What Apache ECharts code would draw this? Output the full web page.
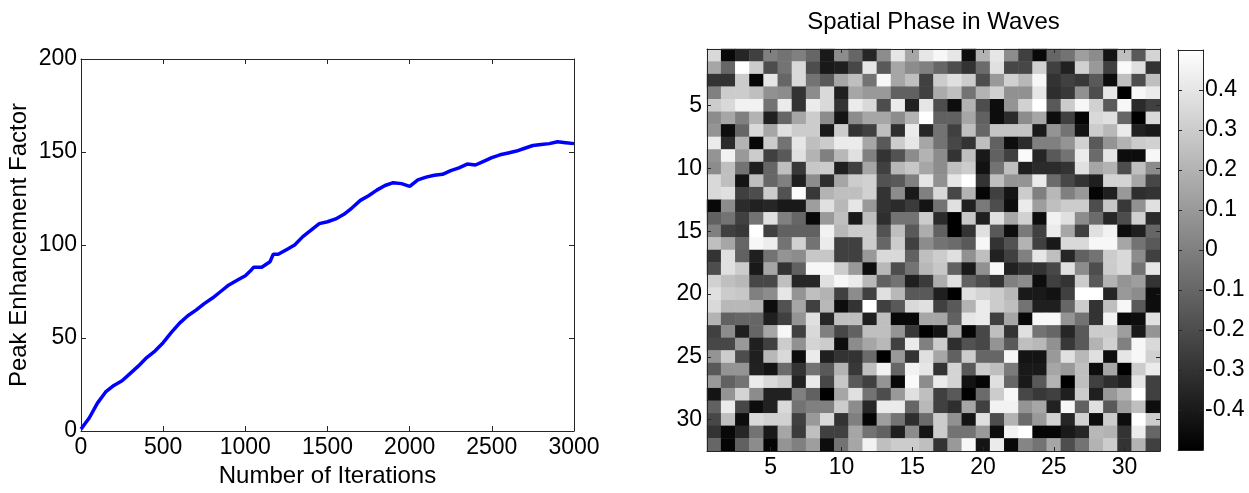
<!DOCTYPE html>
<html>
<head>
<meta charset="utf-8">
<script src="https://cdn.jsdelivr.net/npm/echarts@6/dist/echarts.min.js"></script>
<style>
html,body{margin:0;padding:0;background:#fff;}
#c{width:1249px;height:493px;}
</style>
</head>
<body>
<div id="c"></div>
<script>
// ---- Left chart: Peak Enhancement Factor vs iterations
const iterations = [0,25,50,100,150,200,250,300,350,400,450,500,550,600,650,700,750,800,850,900,950,1000,1030,1050,1100,1150,1170,1200,1250,1300,1350,1400,1450,1500,1550,1600,1650,1700,1750,1800,1850,1900,1950,2000,2050,2100,2150,2200,2250,2300,2350,2400,2450,2500,2550,2600,2650,2700,2750,2800,2850,2900,2950,3000];
const peakFactor = [1,4,7,15,21,24.5,27,31,35,39.5,43,47.5,53,58,62,65,68.5,71.5,75,78.5,81,83.5,86,88,88,91,95,95,97.5,100,104.5,108,111.5,112.5,114,116.5,120,124,126.5,129.5,132,133.5,133,131.5,135,136.5,137.5,138,140,141.5,143.5,143,145,147,148.5,149.5,150.5,152,153.5,154,154.5,155.5,155,154.5];
const xTicksLeft = {min:0, max:3000, step:500};
const yTicksLeft = {min:0, max:200, step:50};

// ---- Right chart: Spatial phase in waves, 32 x 32 (row 1 = top)
const cols = Array.from({length:32}, (_, i) => String(i + 1));
const rows = Array.from({length:32}, (_, i) => String(i + 1));
const phase = [
[0.35,-0.47,-0.35,-0.25,0.0,-0.05,0.0,-0.1,-0.4,0.05,-0.1,-0.35,0.05,0.4,0.15,0.4,0.47,0.4,-0.45,0.2,0.4,0.05,-0.25,-0.47,-0.1,-0.05,0.12,0.05,-0.42,0.25,-0.15,0.33],
[0.15,-0.1,0.5,0.3,-0.2,-0.05,0.35,-0.2,-0.4,-0.38,-0.22,0.4,-0.15,0.15,0.05,0.0,-0.1,-0.2,-0.3,-0.08,0.38,-0.22,-0.22,0.32,-0.25,-0.37,0.32,0.1,-0.25,0.48,0.38,-0.3],
[-0.3,-0.3,0.3,-0.48,0.4,-0.1,0.35,-0.05,-0.15,0.15,0.25,-0.05,0.47,0.15,0.25,-0.25,0.3,0.38,0.3,-0.2,0.1,0.32,0.22,0.47,-0.3,-0.25,-0.28,-0.15,-0.45,0.25,-0.2,0.25],
[0.0,0.3,0.3,0.25,0.07,0.05,-0.3,0.05,0.35,-0.38,0.15,0.1,0.1,-0.12,-0.12,-0.25,0.17,0.25,-0.05,0.2,0.32,0.07,0.07,0.4,-0.32,-0.28,0.07,-0.2,0.4,-0.5,0.47,0.42],
[0.3,0.35,0.45,0.45,-0.05,0.42,-0.3,0.42,0.35,-0.3,0.42,0.35,-0.2,0.42,-0.37,0.4,-0.2,-0.45,0.2,-0.2,-0.45,0.08,0.32,0.5,-0.15,0.3,0.47,0.32,-0.15,0.47,-0.33,-0.25],
[0.05,0.15,0.0,0.2,-0.38,-0.1,0.15,0.3,0.05,-0.42,0.05,0.15,0.15,0.05,0.2,0.5,-0.12,-0.12,0.15,-0.12,-0.45,-0.33,0.05,0.15,-0.45,-0.25,-0.48,0.35,0.38,-0.1,-0.5,0.35],
[0.08,-0.45,-0.1,0.35,0.15,0.38,0.3,0.3,-0.4,0.3,-0.3,-0.25,0.25,-0.32,0.42,-0.35,-0.05,-0.25,0.25,-0.1,0.27,0.27,0.27,-0.4,0.08,-0.05,-0.42,0.3,0.22,0.42,-0.37,-0.4],
[0.42,-0.33,0.2,-0.47,0.3,-0.05,0.4,0.25,0.3,0.42,0.42,0.15,-0.15,0.3,0.4,0.15,-0.05,-0.22,-0.3,0.25,-0.12,-0.45,-0.33,0.0,0.0,0.08,0.32,-0.15,0.08,0.2,0.3,0.32],
[0.08,0.45,0.1,0.3,-0.25,-0.15,0.38,0.2,0.0,0.22,0.38,0.0,-0.3,-0.18,0.05,0.2,0.05,-0.3,0.25,-0.4,-0.12,-0.25,0.48,-0.35,-0.15,-0.05,0.42,-0.08,0.4,-0.45,-0.45,0.47],
[0.05,0.25,-0.05,-0.38,-0.1,0.25,-0.28,0.28,0.3,-0.38,-0.25,0.15,-0.25,0.22,0.28,0.15,0.05,0.25,0.3,-0.43,-0.05,0.25,-0.38,-0.33,-0.33,-0.3,0.38,0.15,0.2,-0.2,0.25,0.05],
[0.35,0.25,-0.42,0.25,-0.1,0.0,-0.38,0.05,-0.32,0.15,0.3,0.32,-0.18,-0.15,0.0,0.4,0.07,0.4,0.5,-0.3,0.25,0.08,0.08,0.42,-0.08,-0.22,-0.3,-0.38,0.33,0.33,0.15,-0.22],
[0.35,0.38,-0.25,-0.2,0.3,-0.18,0.48,-0.28,0.2,0.25,0.25,0.32,-0.3,0.05,-0.4,0.0,0.35,-0.22,0.2,-0.48,-0.25,-0.42,0.3,0.0,0.22,0.0,0.1,-0.48,-0.38,0.1,-0.32,-0.3],
[-0.47,0.05,-0.33,-0.37,-0.35,-0.4,-0.4,0.12,0.38,0.22,0.4,0.1,-0.3,-0.33,-0.27,-0.42,-0.05,0.38,-0.37,-0.02,-0.2,-0.45,0.42,0.12,0.25,0.3,0.3,-0.2,0.28,-0.28,0.07,0.38],
[-0.12,-0.05,-0.25,-0.05,0.38,0.0,-0.1,-0.47,0.1,0.25,-0.4,0.25,-0.32,-0.05,-0.05,0.3,-0.33,-0.5,0.28,-0.38,0.38,0.15,0.32,-0.45,0.45,0.38,0.05,-0.08,-0.35,-0.2,0.32,-0.33],
[0.0,-0.25,-0.28,0.5,-0.25,-0.12,-0.12,-0.12,0.45,0.22,0.3,0.3,-0.18,0.25,-0.15,0.18,-0.12,-0.5,-0.3,0.38,-0.15,-0.45,-0.02,-0.25,0.42,0.15,-0.25,0.38,0.45,-0.45,-0.38,-0.1],
[0.25,0.15,-0.1,0.47,0.43,-0.05,0.32,-0.05,0.42,-0.25,-0.25,0.3,-0.1,0.3,-0.25,0.05,-0.05,-0.08,-0.15,0.47,-0.3,-0.18,0.2,-0.25,-0.4,0.35,0.35,0.47,0.47,0.15,-0.05,-0.15],
[-0.3,0.38,-0.12,-0.38,-0.05,0.08,0.05,0.28,0.28,-0.25,-0.25,0.1,0.35,0.35,-0.12,0.25,0.3,0.38,0.07,0.25,-0.37,-0.25,0.0,0.4,0.25,-0.35,-0.12,-0.05,0.3,0.35,0.05,-0.25],
[-0.2,0.38,0.3,-0.4,0.15,-0.3,-0.12,0.47,0.47,0.3,0.1,-0.45,0.22,-0.2,-0.05,0.22,0.28,-0.12,-0.4,0.07,0.47,-0.37,-0.3,-0.3,-0.22,0.38,0.05,-0.2,0.3,0.35,-0.05,0.4],
[0.32,0.25,0.22,-0.22,-0.22,0.25,-0.35,-0.35,0.38,0.47,0.42,0.22,-0.12,-0.05,-0.38,-0.27,0.18,0.38,-0.12,-0.2,-0.3,0.0,0.05,-0.45,-0.25,-0.3,0.3,-0.15,0.2,0.08,0.12,-0.3],
[0.38,0.3,0.28,0.0,0.05,0.4,0.08,0.25,0.2,-0.25,0.05,-0.25,0.38,0.22,-0.15,-0.15,-0.38,-0.5,0.38,0.33,0.3,0.22,-0.4,-0.4,-0.43,-0.25,0.5,0.5,-0.35,0.1,0.05,-0.45],
[0.35,0.22,0.22,0.2,-0.45,-0.18,0.15,-0.25,0.22,-0.45,-0.3,0.5,-0.25,-0.15,0.35,0.38,-0.25,-0.15,0.2,0.42,0.3,0.25,-0.05,-0.38,-0.38,-0.1,0.3,-0.3,0.25,0.47,-0.15,-0.45],
[0.2,-0.12,-0.1,-0.1,-0.38,-0.25,0.08,0.38,-0.35,0.25,0.25,-0.38,0.25,-0.47,-0.47,0.15,0.15,-0.12,0.4,0.42,-0.25,0.15,-0.47,0.47,0.47,0.08,-0.05,-0.3,0.45,-0.47,-0.45,0.38],
[-0.25,0.05,-0.38,-0.1,0.15,0.47,-0.25,0.35,0.0,-0.22,-0.12,0.25,0.25,0.08,-0.28,-0.5,-0.42,0.18,-0.48,-0.22,0.25,-0.3,0.38,-0.05,-0.1,-0.35,-0.15,0.3,0.3,0.12,-0.4,0.08],
[-0.22,-0.22,0.1,-0.38,-0.25,0.3,0.07,0.33,0.3,-0.45,0.05,0.15,0.22,-0.25,0.42,0.0,0.3,-0.32,-0.18,-0.22,0.08,-0.15,0.25,0.22,0.07,-0.28,-0.15,0.2,0.32,0.0,0.47,0.35],
[0.08,0.3,-0.2,-0.38,0.22,0.35,-0.45,0.42,-0.38,-0.3,-0.3,-0.08,-0.5,0.1,-0.3,0.38,0.15,-0.12,0.3,-0.1,-0.1,0.47,-0.42,-0.42,0.1,0.38,0.22,0.38,-0.45,0.4,0.47,0.32],
[-0.15,0.08,0.08,-0.37,-0.42,-0.08,-0.3,-0.05,-0.15,0.2,-0.28,0.25,0.45,-0.1,0.45,0.4,-0.3,0.33,-0.15,0.3,0.25,-0.02,-0.4,-0.4,0.15,0.1,0.25,-0.45,0.15,-0.5,0.3,0.42],
[0.1,-0.12,-0.05,0.42,0.35,0.3,-0.37,0.42,-0.22,0.28,-0.15,-0.25,0.08,-0.47,0.48,0.05,0.42,0.33,-0.43,-0.48,0.38,-0.1,-0.4,-0.15,0.2,-0.5,0.25,-0.25,-0.32,-0.37,0.4,-0.25],
[-0.42,0.08,0.33,0.05,-0.37,-0.37,0.0,-0.12,-0.5,0.15,0.38,-0.05,-0.2,0.1,0.38,0.25,-0.25,-0.15,-0.5,-0.08,0.3,0.47,-0.22,-0.28,-0.25,-0.38,0.3,-0.38,0.1,0.2,0.5,-0.25],
[-0.12,0.42,-0.22,-0.45,-0.37,0.35,-0.05,0.0,0.0,0.3,0.05,-0.35,0.42,0.42,-0.1,0.22,-0.25,-0.32,0.15,-0.25,0.45,0.45,0.08,0.15,-0.37,0.47,-0.12,0.38,-0.15,0.12,0.25,-0.45],
[-0.22,0.25,-0.45,0.35,0.32,0.32,-0.25,0.1,0.35,-0.3,0.0,-0.48,0.12,-0.05,-0.32,-0.08,0.3,0.07,-0.42,0.38,-0.2,0.2,-0.08,0.1,0.32,-0.35,0.32,-0.45,0.3,-0.45,0.5,0.3],
[-0.3,-0.47,-0.35,-0.05,-0.4,0.15,-0.27,0.25,-0.25,-0.25,0.15,-0.05,-0.12,-0.38,0.05,-0.42,0.3,-0.05,-0.05,0.1,-0.45,0.45,0.5,-0.48,-0.48,-0.4,-0.35,0.22,0.2,-0.3,0.42,-0.1],
[-0.1,-0.48,-0.12,0.05,-0.48,0.08,0.0,0.12,-0.45,-0.05,0.15,0.45,0.25,0.3,0.3,0.25,-0.3,0.1,0.47,-0.42,0.42,-0.47,0.02,-0.05,0.15,-0.2,-0.05,0.2,0.3,-0.3,0.2,-0.25]
];
const phaseRange = {min:-0.5, max:0.5, step:0.1};
const labelEvery = 5;

const FONT = '"Liberation Sans", Arial, Helvetica, sans-serif';
const AX = '#262626';
const TICK_FS = 23;
const NAME_FS = 24;

const lineData = iterations.map((x, i) => [x, peakFactor[i]]);
const heatData = [];
phase.forEach((row, r) => row.forEach((v, c) => heatData.push([c, r, v])));

const catShow = (i) => (i + 1) % labelEvery === 0;
const plain = (v) => String(v);

function valueAxis(gridIndex, extra) {
  return Object.assign({
    type: 'value', gridIndex,
    axisLine: {show: true, onZero: false, lineStyle: {color: AX, width: 1}},
    axisTick: {show: true, inside: true, length: 5, lineStyle: {color: AX}},
    splitLine: {show: false},
    axisLabel: {color: '#000', fontFamily: FONT, fontSize: TICK_FS, formatter: plain},
    z: 5
  }, extra);
}
function catAxis(gridIndex, data, extra) {
  return Object.assign({
    type: 'category', gridIndex, data,
    axisLine: {show: true, onZero: false, lineStyle: {color: AX, width: 1}},
    axisTick: {show: true, inside: true, length: 4, alignWithLabel: true, interval: catShow, lineStyle: {color: AX}},
    splitLine: {show: false},
    axisLabel: {color: '#000', fontFamily: FONT, fontSize: TICK_FS, interval: catShow},
    z: 5
  }, extra);
}

const chart = echarts.init(document.getElementById('c'), null, {renderer: 'canvas'});
chart.setOption({
  animation: false,
  backgroundColor: '#fff',
  grid: [
    {left: 81, top: 59, width: 493, height: 379, containLabel: false},
    {left: 707, top: 49, width: 453, height: 402, containLabel: false},
    {left: 1178, top: 50, width: 25, height: 400, containLabel: false, show: true, borderWidth: 0,
     backgroundColor: {type: 'linear', x: 0, y: 0, x2: 0, y2: 1, colorStops: [{offset: 0, color: '#ffffff'}, {offset: 1, color: '#000000'}]}}
  ],
  xAxis: [
    valueAxis(0, {position: 'bottom', min: xTicksLeft.min, max: xTicksLeft.max, interval: xTicksLeft.step,
      axisLabel: {color: '#000', fontFamily: FONT, fontSize: TICK_FS, margin: 5, formatter: plain},
      name: 'Number of Iterations', nameLocation: 'middle', nameGap: 33,
      nameTextStyle: {color: '#000', fontFamily: FONT, fontSize: NAME_FS}}),
    valueAxis(0, {position: 'top', min: xTicksLeft.min, max: xTicksLeft.max, interval: xTicksLeft.step, axisLabel: {show: false}}),
    catAxis(1, cols, {position: 'bottom', axisLabel: {color: '#000', fontFamily: FONT, fontSize: TICK_FS, interval: catShow, margin: 5}}),
    catAxis(1, cols, {position: 'top', axisLabel: {show: false},
      name: 'Spatial Phase in Waves', nameLocation: 'middle', nameGap: 15,
      nameTextStyle: {color: '#000', fontFamily: FONT, fontSize: NAME_FS}}),
    {type: 'category', gridIndex: 2, data: [''], position: 'bottom', axisLine: {show: true, onZero: false, lineStyle: {color: AX}}, axisTick: {show: false}, axisLabel: {show: false}, z: 5},
    {type: 'category', gridIndex: 2, data: [''], position: 'top', axisLine: {show: true, onZero: false, lineStyle: {color: AX}}, axisTick: {show: false}, axisLabel: {show: false}, z: 5}
  ],
  yAxis: [
    valueAxis(0, {position: 'left', min: yTicksLeft.min, max: yTicksLeft.max, interval: yTicksLeft.step,
      axisLabel: {color: '#000', fontFamily: FONT, fontSize: TICK_FS, margin: 4, formatter: plain},
      name: 'Peak Enhancement Factor', nameLocation: 'middle', nameGap: 50,
      nameTextStyle: {color: '#000', fontFamily: FONT, fontSize: NAME_FS}}),
    valueAxis(0, {position: 'right', min: yTicksLeft.min, max: yTicksLeft.max, interval: yTicksLeft.step, axisLabel: {show: false}}),
    catAxis(1, rows, {position: 'left', inverse: true, axisLabel: {color: '#000', fontFamily: FONT, fontSize: TICK_FS, interval: catShow, margin: 5}}),
    catAxis(1, rows, {position: 'right', inverse: true, axisLabel: {show: false}}),
    valueAxis(2, {position: 'right', min: phaseRange.min, max: phaseRange.max, interval: phaseRange.step,
      axisTick: {show: true, inside: true, length: 4, lineStyle: {color: AX}},
      axisLabel: {color: '#000', fontFamily: FONT, fontSize: TICK_FS, margin: 2, showMinLabel: false, showMaxLabel: false,
        formatter: (v) => Math.abs(v) > 0.45 ? '' : String(Math.round(v * 10) / 10)}}),
    valueAxis(2, {position: 'left', min: phaseRange.min, max: phaseRange.max, interval: phaseRange.step,
      axisTick: {show: true, inside: true, length: 4, lineStyle: {color: AX}}, axisLabel: {show: false}})
  ],
  visualMap: {
    type: 'continuous', show: false, seriesIndex: 1,
    min: phaseRange.min, max: phaseRange.max,
    inRange: {color: ['#000000', '#ffffff']}
  },
  series: [
    {type: 'line', xAxisIndex: 0, yAxisIndex: 0, data: lineData, showSymbol: false, symbol: 'none',
     lineStyle: {color: '#0000ff', width: 3.5}, z: 3},
    {type: 'heatmap', xAxisIndex: 2, yAxisIndex: 2, data: heatData, itemStyle: {borderWidth: 0}, emphasis: {disabled: true}, z: 2}
  ]
});
</script>
</body>
</html>
